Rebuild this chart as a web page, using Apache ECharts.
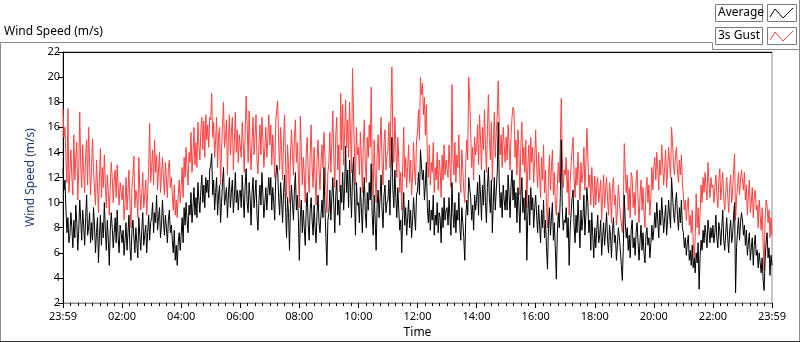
<!DOCTYPE html>
<html>
<head>
<meta charset="utf-8">
<script src="https://cdn.jsdelivr.net/npm/echarts@6/dist/echarts.min.js"></script>
<style>
    html, body { margin: 0; padding: 0; background: #fff; }
    #main { width: 800px; height: 342px; }
</style>
</head>
<body>
<div id="main"></div>
<script>
// x ticks every 2 hours, the record runs 23:59 -> 23:59
const tickLabels = ['23:59', '02:00', '04:00', '06:00', '08:00', '10:00', '12:00',
    '14:00', '16:00', '18:00', '20:00', '22:00', '23:59'];
const sampleMinutes = 2;

// one row per hour, 2 minute samples (m/s)
const average = [
    12.7, 11.0, 11.8, 9.4, 7.6, 8.8, 6.8, 7.4, 9.2, 8.0, 6.4, 8.6, 7.2, 9.8, 8.4, 6.2, 7.8, 10.2, 8.6, 7.0, 9.4, 8.2, 6.6, 8.8, 10.6, 7.4, 8.0, 9.2, 6.8, 8.4,
    7.0, 9.6, 8.2, 6.0, 7.6, 8.8, 5.2, 7.4, 9.0, 6.6, 8.4, 7.2, 10.0, 7.8, 6.2, 8.6, 7.0, 5.0, 7.8, 9.2, 8.0, 6.4, 7.6, 8.8, 6.8, 9.4, 7.2, 6.0, 8.2, 7.6,
    6.8, 7.8, 5.8, 7.0, 8.4, 6.2, 7.6, 9.0, 6.4, 5.4, 7.8, 8.6, 7.2, 6.0, 8.0, 6.8, 5.6, 8.8, 7.4, 6.2, 7.8, 9.2, 6.6, 7.4, 8.2, 6.0, 7.6, 9.0, 7.0, 8.4,
    8.8, 10.0, 7.6, 9.2, 8.4, 10.6, 7.8, 8.8, 9.6, 7.2, 8.2, 10.2, 8.6, 7.4, 9.0, 8.0, 6.8, 8.6, 9.4, 7.6, 8.2, 7.0, 6.0, 7.8, 5.4, 6.6, 5.0, 6.8, 7.6, 6.2,
    7.4, 8.8, 6.8, 9.6, 8.2, 10.0, 8.6, 7.6, 9.8, 9.0, 10.8, 8.4, 9.6, 11.2, 9.0, 10.4, 8.8, 11.6, 10.2, 9.2, 11.0, 12.2, 10.0, 11.4, 9.6, 12.0, 10.8, 11.8, 10.4, 12.6,
    13.0, 13.9, 10.6, 11.8, 9.4, 10.8, 12.0, 9.0, 10.6, 11.4, 8.4, 10.0, 11.6, 12.8, 9.8, 10.4, 11.2, 8.8, 10.6, 12.0, 9.6, 10.8, 11.8, 9.2, 10.4, 12.4, 10.0, 11.0, 9.4, 10.8,
    11.0, 9.6, 12.2, 10.4, 8.8, 11.4, 12.7, 10.0, 9.2, 11.6, 10.4, 8.2, 10.8, 12.0, 9.6, 10.6, 11.8, 9.0, 7.8, 10.2, 11.4, 9.8, 12.4, 10.6, 8.8, 10.0, 11.2, 9.4, 10.8, 12.0,
    10.6, 12.0, 9.4, 11.2, 10.0, 8.6, 11.8, 13.0, 12.6, 10.4, 9.0, 11.6, 10.2, 8.4, 10.8, 12.2, 9.6, 7.2, 10.4, 9.2, 6.2, 9.8, 11.4, 10.0, 8.6, 11.0, 12.4, 9.4, 10.6, 8.8,
    5.4, 8.8, 10.2, 7.6, 9.4, 8.0, 6.6, 9.6, 10.8, 8.2, 7.0, 9.4, 10.4, 8.6, 7.4, 9.8, 8.0, 6.8, 9.2, 10.6, 8.4, 7.6, 9.0, 10.2, 8.8, 12.8, 9.6, 7.2, 5.0, 8.6,
    9.2, 11.0, 8.6, 10.4, 12.0, 9.8, 7.6, 10.6, 11.8, 9.0, 10.2, 8.2, 11.4, 10.0, 12.4, 9.4, 11.2, 14.5, 10.8, 12.6, 9.6, 13.4, 11.0, 8.8, 12.2, 13.6, 10.4, 7.4, 11.6, 9.8,
    10.0, 8.4, 11.2, 9.6, 7.6, 10.4, 12.0, 9.2, 8.0, 10.8, 9.4, 11.6, 10.2, 13.1, 9.0, 7.4, 10.6, 8.6, 6.2, 9.8, 11.0, 8.8, 10.4, 12.2, 9.4, 8.0, 10.6, 11.4, 9.2, 10.0,
    10.2, 11.8, 9.0, 12.4, 15.2, 11.0, 9.6, 12.6, 10.4, 8.8, 11.2, 9.4, 7.8, 8.6, 6.0, 9.0, 10.8, 8.2, 9.6, 7.4, 8.8, 10.2, 8.0, 9.4, 7.2, 8.6, 10.4, 9.0, 7.8, 10.6,
    11.0, 12.4, 10.6, 14.2, 13.0, 11.8, 12.6, 10.2, 11.4, 13.2, 9.6, 8.4, 10.2, 7.8, 9.4, 8.6, 10.6, 7.4, 9.0, 8.2, 10.0, 7.6, 9.2, 8.8, 6.8, 9.6, 8.0, 10.4, 8.6, 9.4,
    9.6, 8.2, 10.4, 8.8, 7.4, 11.6, 9.2, 8.0, 10.0, 7.6, 9.4, 8.6, 10.8, 8.0, 7.0, 9.6, 8.4, 7.2, 5.4, 8.8, 10.2, 9.0, 12.0, 11.2, 10.4, 8.6, 9.8, 7.8, 10.6, 9.4,
    10.2, 11.6, 9.0, 12.2, 10.6, 8.6, 11.4, 9.8, 12.6, 10.0, 8.4, 11.2, 12.8, 10.4, 9.2, 11.8, 7.6, 10.0, 12.0, 9.4, 11.0, 12.4, 16.4, 11.6, 9.6, 10.8, 8.8, 11.4, 10.2, 9.4,
    11.0, 9.4, 12.2, 10.6, 8.8, 11.4, 12.6, 10.2, 11.8, 9.6, 10.8, 8.4, 11.2, 9.8, 7.6, 10.6, 12.0, 9.2, 10.4, 8.6, 11.0, 5.4, 9.0, 10.6, 8.2, 11.2, 9.4, 10.4, 8.0, 9.6,
    10.6, 9.0, 7.6, 9.8, 8.2, 6.8, 9.4, 8.0, 10.2, 7.2, 8.6, 6.4, 4.7, 8.2, 9.6, 7.4, 8.8, 10.0, 7.0, 8.4, 6.2, 3.9, 7.6, 9.2, 8.0, 10.4, 15.0, 9.6, 7.8, 8.6,
    8.4, 9.6, 7.2, 8.8, 5.0, 7.8, 9.2, 10.4, 11.0, 8.2, 6.8, 9.0, 7.6, 10.2, 8.4, 6.4, 9.4, 7.8, 8.8, 10.6, 7.4, 9.0, 11.2, 10.0, 7.6, 8.6, 6.2, 9.2, 7.4, 5.6,
    8.0, 6.4, 7.8, 9.0, 6.8, 7.4, 8.6, 5.8, 7.2, 8.4, 6.6, 7.8, 9.2, 7.0, 6.0, 8.2, 7.4, 5.6, 7.8, 8.8, 6.8, 7.4, 5.4, 6.6, 8.0, 7.2, 6.2, 5.0, 3.8, 6.4,
    10.6, 8.4, 7.2, 8.0, 6.2, 7.4, 5.6, 7.8, 8.6, 6.4, 7.2, 5.8, 7.6, 8.4, 6.8, 5.4, 7.0, 8.2, 6.2, 7.6, 6.0, 5.2, 7.4, 8.0, 6.6, 7.2, 5.6, 6.8, 8.2, 7.0,
    7.8, 9.2, 8.0, 10.0, 8.6, 7.2, 9.4, 8.2, 10.4, 9.0, 7.6, 8.8, 9.8, 7.4, 8.6, 10.2, 9.0, 8.0, 12.0, 10.6, 9.2, 8.4, 10.0, 10.8, 9.0, 7.8, 9.6, 8.4, 10.2, 8.0,
    7.6, 6.4, 7.2, 5.8, 6.8, 7.4, 5.4, 6.2, 5.0, 6.6, 4.8, 5.6, 4.4, 6.0, 5.2, 6.8, 3.1, 5.8, 7.0, 6.2, 7.8, 6.8, 8.2, 7.4, 6.4, 8.6, 7.8, 6.8, 8.0, 7.2,
    8.2, 6.8, 7.6, 9.0, 7.2, 6.4, 8.4, 7.8, 6.6, 8.0, 9.4, 7.0, 6.2, 7.6, 8.8, 7.2, 6.0, 7.8, 8.6, 6.8, 7.4, 9.0, 10.0, 2.8, 6.4, 7.8, 8.8, 7.0, 8.4, 9.2,
    8.6, 7.4, 8.2, 6.6, 7.8, 5.8, 6.8, 7.6, 5.4, 6.4, 7.2, 5.0, 6.6, 7.4, 5.8, 6.2, 4.8, 6.0, 5.2, 4.4, 5.6, 3.8, 3.0, 5.4, 6.8, 7.6, 5.6, 6.4, 4.2, 5.8,
    5.0
];

const gust = [
    17.5, 15.2, 16.0, 13.4, 11.6, 17.5, 10.8, 12.4, 14.2, 12.0, 10.6, 15.4, 11.8, 13.6, 14.8, 10.2, 12.6, 17.2, 13.0, 11.2, 14.6, 12.4, 10.8, 13.8, 15.0, 11.4, 16.0, 13.2, 10.6, 12.8,
    15.1, 12.6, 11.0, 9.8, 13.4, 11.6, 9.2, 12.0, 14.3, 10.4, 12.8, 11.2, 13.8, 11.6, 9.6, 12.2, 10.8, 9.0, 11.4, 13.2, 12.0, 10.0, 11.8, 12.6, 10.4, 13.0, 11.2, 9.8, 11.6, 10.8,
    10.2, 11.4, 8.6, 10.0, 12.0, 9.4, 10.8, 12.6, 9.8, 8.0, 11.2, 12.2, 13.7, 9.6, 11.0, 10.4, 8.8, 13.6, 11.0, 9.4, 10.8, 12.4, 9.6, 10.6, 11.8, 9.0, 10.8, 12.8, 16.3, 11.6,
    12.8, 14.2, 11.4, 15.0, 12.4, 13.8, 11.0, 12.6, 14.0, 10.8, 12.2, 13.6, 12.0, 10.6, 13.2, 11.8, 10.4, 12.8, 13.4, 11.2, 12.0, 10.6, 9.4, 11.4, 9.0, 10.2, 8.8, 10.6, 11.8, 10.0,
    11.2, 12.8, 10.4, 13.6, 12.0, 14.4, 12.6, 11.4, 14.0, 13.2, 15.6, 12.4, 13.8, 16.0, 13.0, 14.8, 12.8, 16.4, 14.6, 13.4, 15.8, 16.8, 14.2, 16.5, 13.6, 17.0, 15.0, 16.2, 14.4, 16.8,
    16.6, 18.7, 15.2, 16.4, 13.6, 15.0, 16.8, 12.8, 15.4, 16.0, 11.4, 14.2, 16.2, 18.0, 14.4, 15.2, 16.6, 12.2, 15.0, 17.0, 13.8, 15.6, 16.8, 12.6, 14.8, 17.2, 14.0, 15.8, 13.2, 15.4,
    15.4, 13.6, 16.4, 14.8, 12.4, 15.6, 18.5, 16.2, 13.2, 17.3, 14.6, 12.6, 15.0, 16.8, 13.8, 15.2, 17.0, 13.4, 12.3, 14.6, 16.2, 13.8, 16.8, 15.0, 12.8, 14.4, 16.0, 13.6, 15.2, 17.0,
    14.6, 16.2, 13.0, 15.4, 14.0, 12.0, 16.4, 17.4, 18.1, 14.8, 12.6, 16.0, 14.2, 11.8, 15.0, 17.0, 13.4, 10.4, 14.6, 13.0, 10.0, 13.8, 15.8, 14.0, 12.2, 15.2, 16.6, 13.2, 14.8, 12.4,
    9.6, 16.9, 14.2, 11.4, 13.6, 12.2, 10.0, 14.0, 15.2, 12.4, 10.8, 13.8, 16.2, 12.8, 11.2, 14.4, 12.0, 9.8, 13.4, 15.0, 12.6, 11.0, 13.2, 14.6, 12.8, 15.6, 13.8, 11.0, 9.2, 12.4,
    13.2, 15.6, 12.4, 14.8, 17.3, 13.8, 11.2, 15.4, 16.8, 12.6, 14.6, 10.9, 18.7, 14.2, 17.8, 13.0, 15.6, 18.2, 14.4, 16.6, 13.6, 18.0, 15.2, 12.4, 20.7, 17.2, 14.0, 11.4, 16.0, 13.8,
    14.4, 12.2, 15.6, 13.4, 10.8, 14.8, 16.6, 13.0, 11.6, 15.2, 13.6, 16.2, 14.4, 19.2, 12.8, 10.6, 15.0, 12.2, 10.0, 13.8, 15.4, 12.6, 14.6, 16.8, 13.2, 11.4, 14.8, 15.8, 12.6, 13.8,
    14.2, 16.4, 12.8, 17.2, 20.8, 15.0, 13.2, 16.8, 14.4, 12.0, 15.2, 13.4, 10.8, 12.4, 9.4, 13.0, 16.0, 12.0, 13.6, 11.2, 12.8, 14.6, 11.6, 13.4, 10.6, 12.2, 14.8, 12.6, 11.4, 15.0,
    15.6, 17.4, 15.0, 20.0, 18.6, 19.5, 17.0, 18.4, 15.4, 17.8, 13.6, 12.0, 14.6, 11.4, 13.2, 12.4, 14.8, 10.8, 12.8, 11.8, 14.0, 11.0, 13.4, 12.6, 10.4, 13.8, 11.8, 14.6, 12.2, 13.4,
    13.4, 12.0, 14.6, 13.0, 11.2, 19.4, 13.6, 12.2, 14.8, 11.6, 13.8, 12.8, 15.4, 12.0, 10.8, 14.2, 12.6, 11.0, 10.0, 13.2, 15.0, 13.4, 20.0, 18.2, 15.6, 12.8, 14.4, 11.8, 15.2, 13.8,
    14.4, 16.2, 13.0, 17.0, 15.0, 12.6, 16.0, 14.2, 17.4, 14.6, 12.4, 15.8, 18.6, 15.2, 13.4, 16.4, 11.8, 14.6, 17.2, 13.6, 15.6, 17.0, 19.7, 16.2, 13.8, 15.4, 12.8, 16.0, 14.6, 13.2,
    15.2, 13.4, 16.2, 14.6, 12.6, 15.4, 16.8, 17.6, 17.3, 13.6, 15.0, 12.2, 15.8, 14.0, 10.6, 14.6, 16.4, 13.0, 14.4, 12.4, 15.0, 9.6, 12.8, 14.6, 11.8, 15.2, 13.2, 14.4, 11.6, 13.4,
    15.8, 13.0, 11.2, 14.0, 12.2, 10.4, 13.6, 11.8, 14.6, 10.8, 12.6, 9.6, 8.0, 12.0, 13.8, 11.0, 12.8, 14.2, 10.6, 12.4, 9.8, 9.0, 11.4, 13.2, 11.6, 14.4, 18.3, 13.6, 11.2, 12.6,
    12.2, 13.6, 10.8, 12.6, 9.0, 11.6, 13.0, 14.2, 15.2, 12.0, 10.4, 12.8, 11.4, 14.0, 12.2, 10.2, 13.2, 11.6, 12.4, 14.4, 11.0, 13.0, 15.9, 13.8, 11.2, 12.2, 9.8, 12.8, 11.0, 9.6,
    12.1, 9.8, 11.4, 12.0, 10.0, 10.8, 11.8, 8.6, 10.4, 12.2, 9.6, 11.0, 12.0, 10.2, 9.0, 11.6, 10.6, 8.4, 11.2, 12.0, 9.8, 10.6, 8.2, 9.4, 11.4, 10.2, 9.0, 8.4, 7.6, 9.6,
    14.7, 12.4, 10.8, 12.2, 9.4, 11.2, 8.8, 12.4, 12.0, 9.6, 10.8, 9.0, 11.8, 12.6, 10.2, 8.4, 10.6, 11.8, 9.4, 11.2, 9.2, 8.0, 11.0, 12.0, 10.0, 11.4, 9.0, 10.4, 12.8, 11.0,
    12.7, 13.6, 11.8, 14.0, 12.6, 11.0, 13.4, 12.2, 14.6, 13.0, 11.4, 12.8, 14.2, 11.2, 12.6, 14.4, 13.2, 12.0, 16.0, 14.8, 13.0, 12.2, 13.8, 14.4, 12.6, 11.6, 13.4, 12.2, 13.8, 11.6,
    10.6, 9.4, 10.2, 8.6, 9.8, 10.4, 8.2, 9.0, 7.6, 9.4, 6.8, 5.6, 7.2, 10.7, 8.0, 9.6, 7.4, 9.2, 11.4, 10.0, 12.0, 10.8, 12.4, 11.2, 10.2, 13.2, 11.6, 10.4, 12.0, 11.2,
    11.4, 10.0, 11.2, 12.2, 10.6, 9.6, 11.8, 12.7, 10.2, 11.4, 12.4, 10.4, 9.4, 10.8, 12.0, 10.6, 9.2, 11.2, 12.2, 10.0, 10.8, 12.6, 13.9, 8.6, 10.2, 11.4, 12.4, 10.6, 11.8, 12.6,
    12.6, 11.0, 12.4, 10.2, 11.4, 9.0, 10.6, 11.8, 9.2, 10.0, 11.2, 8.8, 10.4, 11.0, 9.4, 9.8, 8.0, 10.2, 9.0, 7.8, 9.6, 6.8, 4.6, 8.6, 10.2, 9.8, 8.4, 9.4, 7.2, 8.8,
    7.4
];

const chart = echarts.init(document.getElementById('main'), null, {renderer: 'canvas'});
const font = 'Noto Sans';
const gray = '#8c8c8c';

const pts = (vals) => vals.map((v, i) => [i * sampleMinutes, v]);

const legendRow = (y, label, color) => [
    {type: 'rect', shape: {x: 715.5, y: y + 0.5, width: 47, height: 17},
        style: {fill: '#fff', stroke: '#7a7a7a', lineWidth: 1}},
    {type: 'text', x: 718, y: y + 9, style: {text: label, font: '12px ' + font, fill: '#000', verticalAlign: 'middle'}},
    {type: 'rect', shape: {x: 767.5, y: y + 0.5, width: 29, height: 17},
        style: {fill: '#fff', stroke: '#7a7a7a', lineWidth: 1}},
    {type: 'polyline', shape: {points: [[770, y + 13], [775, y + 5], [783, y + 14], [793, y + 4]]},
        style: {stroke: color, lineWidth: 1, fill: null}}
];

const option = {
    animation: false,
    backgroundColor: '#fff',
    textStyle: {fontFamily: font},
    grid: {
        left: 63, top: 52, right: 28, bottom: 39,
        outerBoundsMode: 'none',
        show: true, borderColor: gray, borderWidth: 1
    },
    xAxis: {
        type: 'value',
        min: 0,
        max: 1440,
        interval: 120,
        name: 'Time',
        nameLocation: 'middle',
        nameGap: 24,
        nameTextStyle: {color: '#000', fontSize: 12, fontFamily: font},
        axisLine: {show: true, lineStyle: {color: gray, width: 1}},
        axisTick: {show: true, length: 5, lineStyle: {color: '#000'}},
        minorTick: {show: true, splitNumber: 8, length: 3, lineStyle: {color: '#000'}},
        splitLine: {show: false},
        axisLabel: {
            color: '#000', fontSize: 11, fontFamily: font, margin: 8,
            formatter: (v) => tickLabels[Math.round(v / 120)] || ''
        }
    },
    yAxis: {
        type: 'value',
        min: 2,
        max: 22,
        interval: 2,
        name: 'Wind Speed (m/s)',
        nameLocation: 'middle',
        nameGap: 25,
        nameTextStyle: {color: '#1d3c74', fontSize: 12, fontFamily: font},
        axisLine: {show: true, lineStyle: {color: '#000', width: 1}},
        axisTick: {show: true, length: 5, lineStyle: {color: '#000'}},
        splitLine: {show: false},
        axisLabel: {color: '#000', fontSize: 11, fontFamily: font, margin: 3}
    },
    series: [
        {
            name: '3s Gust', type: 'line', data: pts(gust), showSymbol: false,
            lineStyle: {color: '#ff4040', width: 1}, itemStyle: {color: '#ff4040'}
        },
        {
            name: 'Average', type: 'line', data: pts(average), showSymbol: false,
            lineStyle: {color: '#000', width: 1}, itemStyle: {color: '#000'}
        }
    ],
    graphic: [
        // outer panel frame
        {type: 'polyline', shape: {points: [[0.5, 342], [0.5, 42.5], [712.5, 42.5], [712.5, 49.5], [799.5, 49.5]]},
            style: {stroke: gray, lineWidth: 1, fill: null}},
        {type: 'line', shape: {x1: 799.5, y1: 0, x2: 799.5, y2: 342}, style: {stroke: gray, lineWidth: 1}},
        {type: 'line', shape: {x1: 0, y1: 341.5, x2: 800, y2: 341.5}, style: {stroke: '#333', lineWidth: 1}},
        // dark top edge of the plot
        {type: 'line', shape: {x1: 63, y1: 52.5, x2: 772, y2: 52.5}, style: {stroke: '#000', lineWidth: 1}, z: 100},
        {type: 'text', x: 4, y: 32, style: {text: 'Wind Speed (m/s)', font: '12px ' + font, fill: '#000', verticalAlign: 'middle'}},
        ...legendRow(4, 'Average', '#000'),
        ...legendRow(27, '3s Gust', '#ff4040')
    ]
};

chart.setOption(option);
</script>
</body>
</html>
